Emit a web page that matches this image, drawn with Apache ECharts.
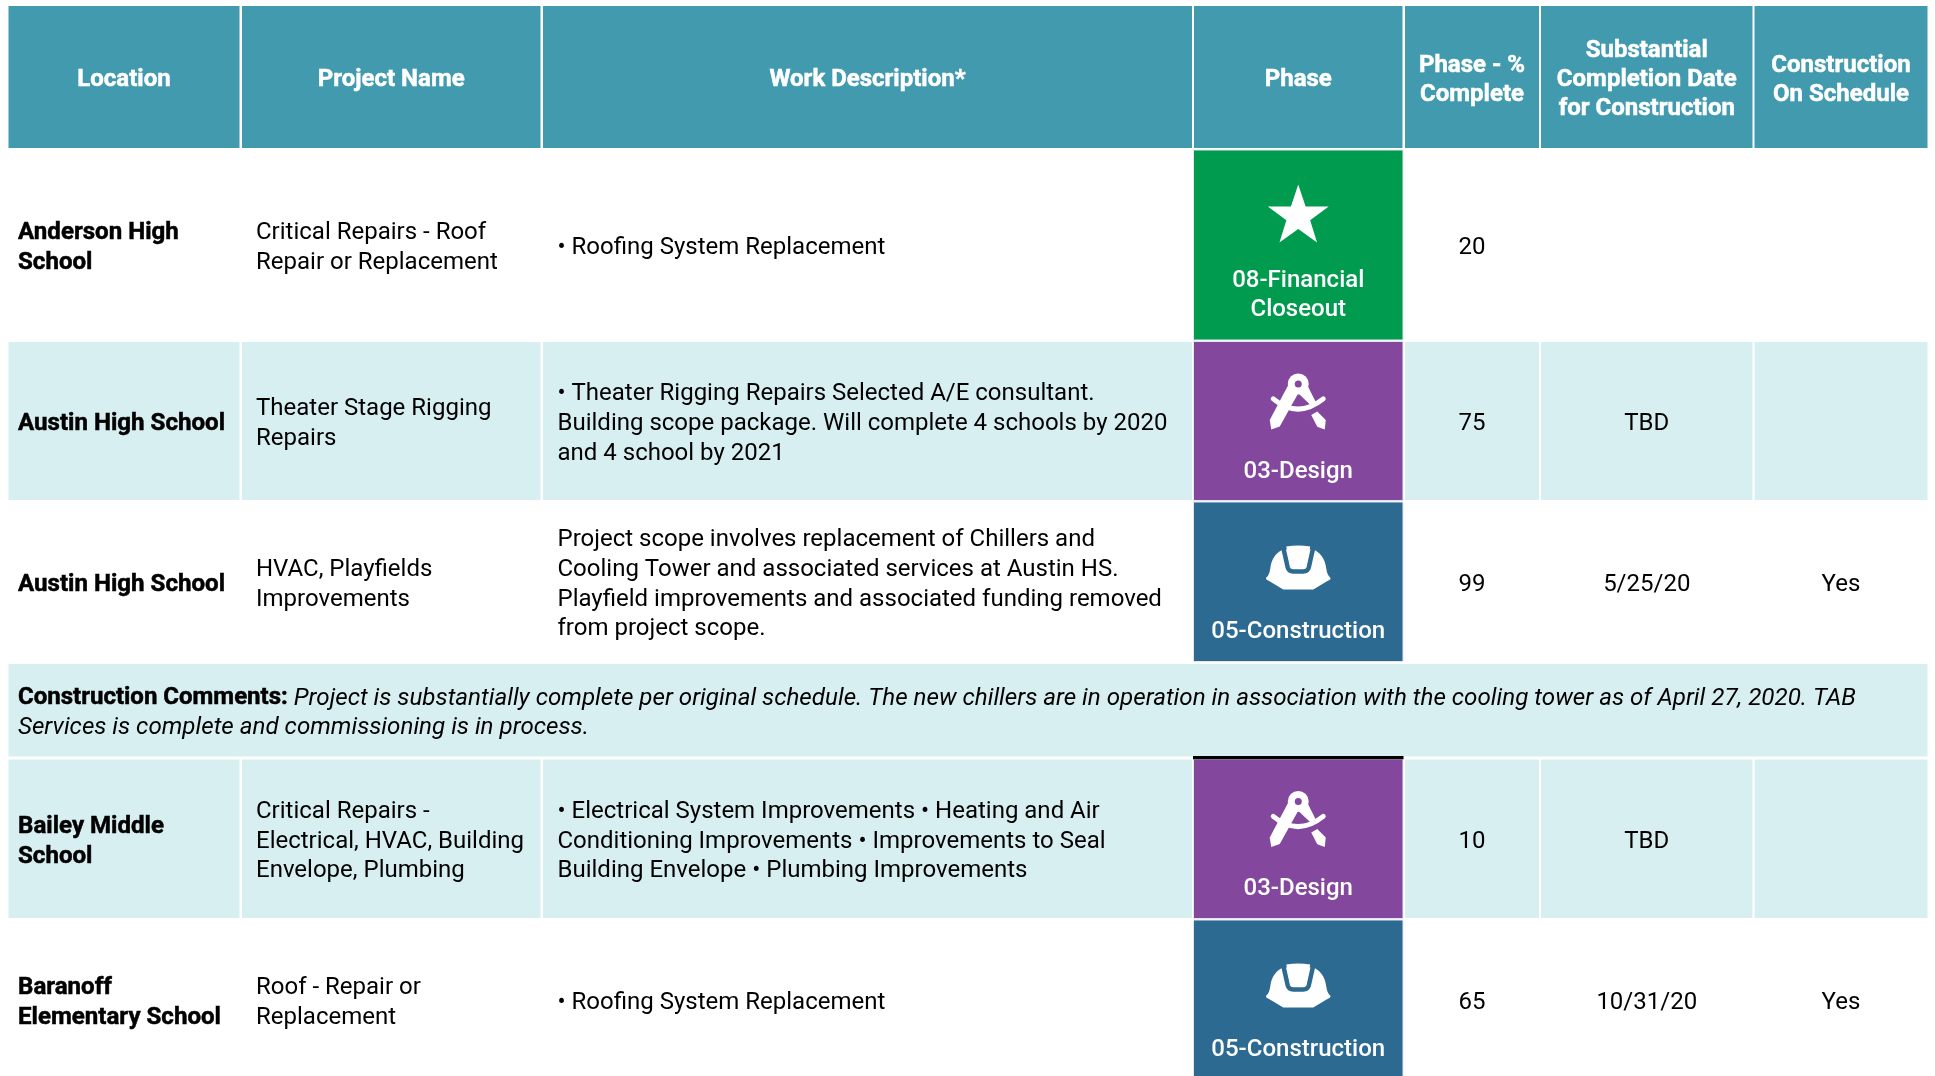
<!DOCTYPE html>
<html>
<head>
<meta charset="utf-8">
<style>
html, body { margin: 0; padding: 0; background: #fff; }
#main { width: 1935px; height: 1076px; }
</style>
<script src="https://cdn.jsdelivr.net/npm/echarts@6/dist/echarts.min.js"></script>
</head>
<body>
<div id="main"></div>
<script>
// table content
var headers = ['Location', 'Project Name', 'Work Description*', 'Phase', 'Phase - %\nComplete', 'Substantial\nCompletion Date\nfor Construction', 'Construction\nOn Schedule'];
var locations = ['Anderson High\nSchool', 'Austin High School', 'Austin High School', 'Bailey Middle\nSchool', 'Baranoff\nElementary School'];
var projects = ['Critical Repairs - Roof\nRepair or Replacement', 'Theater Stage Rigging\nRepairs', 'HVAC, Playfields\nImprovements', 'Critical Repairs -\nElectrical, HVAC, Building\nEnvelope, Plumbing', 'Roof - Repair or\nReplacement'];
var descriptions = [
    '• Roofing System Replacement',
    '• Theater Rigging Repairs Selected A/E consultant.\nBuilding scope package. Will complete 4 schools by 2020\nand 4 school by 2021',
    'Project scope involves replacement of Chillers and\nCooling Tower and associated services at Austin HS.\nPlayfield improvements and associated funding removed\nfrom project scope.',
    '• Electrical System Improvements • Heating and Air\nConditioning Improvements • Improvements to Seal\nBuilding Envelope • Plumbing Improvements',
    '• Roofing System Replacement'
];
var phases = ['08-Financial\nCloseout', '03-Design', '05-Construction', '03-Design', '05-Construction'];
var percents = [20, 75, 99, 10, 65];
var dates = ['', 'TBD', '5/25/20', 'TBD', '10/31/20'];
var onSchedule = ['', '', 'Yes', '', 'Yes'];
var commentLabel = 'Construction Comments:';
var commentLines = ['Project is substantially complete per original schedule. The new chillers are in operation in association with the cooling tower as of April 27, 2020. TAB', 'Services is complete and commissioning is in process.'];

// layout, in axis units
var colEdges = [[8.5, 239.5], [242, 540.5], [543, 1192], [1194, 1402.5], [1405, 1539], [1541, 1752.5], [1754.5, 1927.5]];
var rowEdges = [[6, 148], [150.5, 339.5], [342, 500], [502.5, 661], [664, 756.5], [759.5, 918], [920.5, 1080]];
var projectRows = [1, 2, 3, 5, 6];
var shadedRows = { 2: true, 4: true, 5: true };

var HEADER = '#429aaf', SHADE = '#d8eff2', EDGE = '#e2e6ee';
var phaseColors = { '08': '#009b4e', '03': '#84479e', '05': '#2d6a92' };
var FONT = 'Roboto';
var LINE = 29.6;
var TEXT_DY = 3;

function txt(x, y, text, align, size, weight, color, line) {
    var st = {
        text: text, align: align, verticalAlign: 'middle',
        fontFamily: FONT, fontSize: size, fontWeight: weight,
        lineHeight: line || LINE, fill: color
    };
    // the bold in the picture is a bit heavier than Roboto 700
    if (weight === 700) { st.stroke = color; st.lineWidth = 0.5; }
    return { type: 'text', x: x, y: y, style: st };
}

function starIcon(c) {
    var pts = [];
    for (var i = 0; i < 10; i++) {
        var r = i % 2 ? 12.5 : 32;
        var a = -Math.PI / 2 + i * Math.PI / 5;
        pts.push([r * Math.cos(a), r * Math.sin(a)]);
    }
    return { type: 'polygon', x: c[0], y: c[1], shape: { points: pts }, style: { fill: '#fff' } };
}

function compassIcon(c, bg) {
    return {
        type: 'group', x: c[0], y: c[1],
        children: [
            { type: 'path', shape: { pathData: 'M-24 -3Q0 17 25 -3', x: -25, y: -4, width: 50, height: 12 }, style: { fill: 'none', stroke: '#fff', lineWidth: 5, lineCap: 'round' } },
            { type: 'polygon', shape: { points: [[-10, -17], [-28.5, 18], [-27, 27.5], [-18.5, 24.5], [0, -8.7]] }, style: { fill: '#fff' } },
            { type: 'polygon', shape: { points: [[9, -17], [18, 1], [13, 3.7], [0, -8.7]] }, style: { fill: '#fff' } },
            { type: 'polygon', shape: { points: [[13, 13], [19, 9.5], [27.5, 18], [26.5, 27.5], [19, 24.7]] }, style: { fill: '#fff' } },
            { type: 'circle', shape: { cx: 0, cy: -18, r: 10.5 }, style: { fill: '#fff' } },
            { type: 'circle', shape: { cx: 0, cy: -18, r: 3.5 }, style: { fill: bg } }
        ]
    };
}

function hatIcon(c, bg) {
    return {
        type: 'group', x: c[0], y: c[1],
        children: [
            { type: 'path', shape: { pathData: 'M-32 11Q-29 9 -28 2C-27 -8 -21 -15 -15 -17L15 -17C21 -15 27 -8 28 2Q29 9 32 11Q33 13 30 14L15 23L-15 23L-30 14Q-33 13 -32 11Z', x: -33, y: -17, width: 66, height: 40 }, style: { fill: '#fff' } },
            { type: 'path', shape: { pathData: 'M-15 -19L-10.5 1Q-9.5 5 -5 5L5 5Q9.5 5 10.5 1L15 -19', x: -15, y: -19, width: 30, height: 24 }, style: { fill: 'none', stroke: bg, lineWidth: 4.5 } },
            { type: 'path', shape: { pathData: 'M-12 -20Q0 -22 12 -20L8 0Q7.5 2 5 2L-5 2Q-7.5 2 -8 0Z', x: -12, y: -21, width: 24, height: 23 }, style: { fill: '#fff' } }
        ]
    };
}

function cellText(col, i) {
    if (col === 0) return locations[i];
    if (col === 1) return projects[i];
    if (col === 2) return descriptions[i];
    if (col === 4) return String(percents[i]);
    if (col === 5) return dates[i];
    return onSchedule[i];
}

function rect(api, x0, y0, x1, y1, fill) {
    var a = api.coord([x0, y0]), b = api.coord([x1, y1]);
    return { type: 'rect', shape: { x: a[0], y: a[1], width: b[0] - a[0], height: b[1] - a[1] }, style: { fill: fill } };
}

function renderItem(params, api) {
    var col = api.value(0), row = api.value(1);
    var rc = rowEdges[row], cc = colEdges[col];
    var kids = [];

    // comment row goes over all columns
    if (row === 4) {
        kids.push(rect(api, colEdges[0][0], rc[0], colEdges[6][1], rc[1], SHADE));
        var p = api.coord([18, (rc[0] + rc[1]) / 2 + TEXT_DY]);
        kids.push({
            type: 'text', x: p[0], y: p[1],
            style: {
                text: '{b|' + commentLabel + ' }{i|' + commentLines[0] + '}\n{i|' + commentLines[1] + '}',
                align: 'left', verticalAlign: 'middle', fill: '#000',
                rich: {
                    b: { fontFamily: FONT, fontSize: 24, fontWeight: 700, lineHeight: LINE, fill: '#000', stroke: '#000', lineWidth: 0.5 },
                    i: { fontFamily: FONT, fontSize: 24.2, fontStyle: 'italic', lineHeight: LINE, fill: '#000' }
                }
            }
        });
        return { type: 'group', children: kids };
    }

    var midY = (rc[0] + rc[1]) / 2 + TEXT_DY;
    var midX = (cc[0] + cc[1]) / 2;

    if (row === 0) {
        kids.push(rect(api, cc[0], rc[0], cc[1], rc[1], HEADER));
        var hp = api.coord([midX, midY]);
        kids.push(txt(hp[0], hp[1], headers[col], 'center', 24, 700, '#fff', 29));
        return { type: 'group', children: kids };
    }

    var i = projectRows.indexOf(row);

    if (col === 3) {
        var key = phases[i].slice(0, 2);
        var bg = phaseColors[key];
        kids.push(rect(api, cc[0] - 1, rc[0] - 1, cc[1] + 1, Math.min(rc[1], 1076) + 1, EDGE));
        kids.push(rect(api, cc[0], rc[0], cc[1], rc[1], bg));
        if (row === 5) kids.push(rect(api, cc[0] - 1, 756, cc[1] + 1, 759.3, '#000'));
        var ic = api.coord([midX, rc[0] + (key === '08' ? 66 : 60 + (key === '05' ? 4 : 0))]);
        if (key === '08') kids.push(starIcon(ic));
        else if (key === '03') kids.push(compassIcon(ic, bg));
        else kids.push(hatIcon(ic, bg));
        var lp = api.coord([midX, rc[0] + (key === '08' ? 145 : 129.5)]);
        kids.push(txt(lp[0], lp[1], phases[i], 'center', 24, 500, '#fff'));
        return { type: 'group', children: kids };
    }

    if (shadedRows[row]) kids.push(rect(api, cc[0], rc[0], cc[1], rc[1], SHADE));
    var t = cellText(col, i);
    if (t) {
        if (col < 3) {
            var tx = [18, 256, 557.5][col];
            var tp = api.coord([tx, midY]);
            kids.push(txt(tp[0], tp[1], t, 'left', col === 0 ? 24.1 : 24, col === 0 ? 700 : 400, '#000'));
        } else {
            var cp = api.coord([midX, midY]);
            kids.push(txt(cp[0], cp[1], t, 'center', 24, 400, '#000'));
        }
    }
    return { type: 'group', children: kids };
}

var cells = [];
rowEdges.forEach(function (r, row) {
    if (row === 4) { cells.push([0, row]); return; }
    colEdges.forEach(function (c, col) { cells.push([col, row]); });
});

var myChart = echarts.init(document.getElementById('main'));
myChart.setOption({
    animation: false,
    backgroundColor: '#fff',
    grid: { left: 0, right: 0, top: 0, bottom: 0 },
    xAxis: { type: 'value', min: 0, max: 1935, show: false },
    yAxis: { type: 'value', min: 0, max: 1076, inverse: true, show: false },
    series: [{
        type: 'custom',
        coordinateSystem: 'cartesian2d',
        renderItem: renderItem,
        clip: false,
        silent: true,
        encode: { x: 0, y: 1 },
        data: cells
    }]
});
</script>
</body>
</html>
